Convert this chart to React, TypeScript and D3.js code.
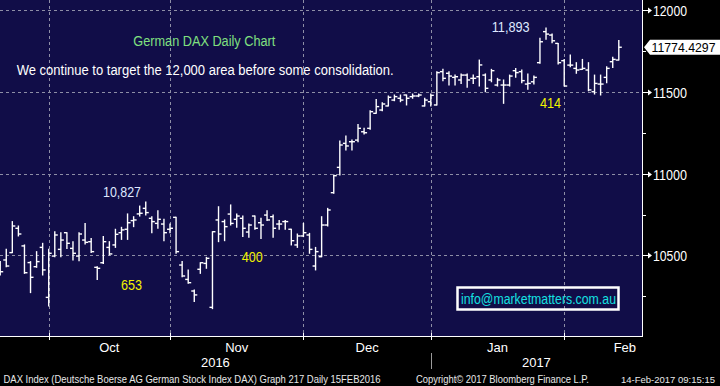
import React from 'react';
import * as d3 from 'd3';

// ---- Data ----
const START_DATE = '2016-09-21';
const END_DATE = '2017-02-14';
const HOLIDAYS = ['2016-10-03', '2016-12-26'];

const opens = [
  10440, 10472, 10517, 10666, 10558, 10456, 10431, 10549, 10243, 10496,
  10537, 10639, 10543, 10496, 10594, 10584, 10427, 10455, 10549, 10564,
  10639, 10660, 10713, 10754, 10788, 10727, 10696, 10692, 10660, 10733,
  10441, 10353, 10282, 10415, 10451, 10182, 10717, 10707, 10753, 10721,
  10727, 10643, 10741, 10700, 10747, 10737, 10692, 10707, 10660, 10564,
  10619, 10625, 10435, 10492, 10686, 10884, 11039, 11186, 11196, 11206,
  11257, 11278, 11370, 11390, 11415, 11451, 11462, 11482, 11472, 11476,
  11415, 11441, 11421, 11625, 11615, 11590, 11574, 11604, 11584, 11594,
  11604, 11574, 11543, 11543, 11543, 11631, 11625, 11549, 11563, 11680,
  11870, 11849, 11798, 11692, 11665, 11645, 11639, 11635, 11502, 11549,
  11590, 11686, 11696,
];
const highs = [
  10462, 10537, 10707, 10680, 10564, 10462, 10523, 10574, 10537, 10645,
  10639, 10639, 10584, 10639, 10696, 10604, 10431, 10615, 10584, 10660,
  10672, 10754, 10737, 10802, 10827, 10737, 10774, 10721, 10692, 10733,
  10462, 10411, 10288, 10455, 10488, 10645, 10798, 10717, 10809, 10753,
  10741, 10692, 10741, 10727, 10774, 10747, 10713, 10713, 10660, 10631,
  10696, 10635, 10549, 10737, 10788, 10992, 11200, 11231, 11206, 11302,
  11278, 11386, 11455, 11435, 11476, 11482, 11482, 11482, 11488, 11488,
  11462, 11488, 11625, 11639, 11625, 11604, 11611, 11611, 11604, 11696,
  11611, 11639, 11584, 11574, 11604, 11645, 11635, 11611, 11598, 11829,
  11893, 11855, 11798, 11700, 11727, 11680, 11700, 11680, 11604, 11604,
  11655, 11713, 11815,
];
const lows = [
  10380, 10431, 10517, 10619, 10390, 10272, 10427, 10380, 10190, 10492,
  10492, 10543, 10472, 10468, 10570, 10517, 10353, 10451, 10503, 10549,
  10598, 10598, 10676, 10741, 10747, 10639, 10666, 10590, 10639, 10513,
  10370, 10329, 10217, 10390, 10421, 10174, 10584, 10590, 10686, 10672,
  10615, 10611, 10660, 10604, 10713, 10611, 10660, 10660, 10564, 10549,
  10615, 10513, 10411, 10492, 10680, 10880, 10992, 11145, 11145, 11196,
  11243, 11272, 11370, 11386, 11415, 11447, 11441, 11421, 11462, 11472,
  11415, 11415, 11421, 11570, 11543, 11543, 11553, 11529, 11553, 11537,
  11502, 11563, 11537, 11431, 11537, 11590, 11557, 11517, 11549, 11676,
  11823, 11802, 11672, 11537, 11655, 11615, 11639, 11508, 11488, 11482,
  11557, 11651, 11696,
];
const closes = [
  10400, 10435, 10680, 10631, 10394, 10366, 10462, 10411, 10513, 10625,
  10594, 10574, 10513, 10631, 10580, 10523, 10421, 10584, 10509, 10629,
  10656, 10700, 10717, 10758, 10762, 10707, 10721, 10639, 10666, 10523,
  10374, 10333, 10258, 10455, 10482, 10645, 10631, 10676, 10696, 10741,
  10666, 10686, 10666, 10686, 10717, 10666, 10692, 10707, 10590, 10619,
  10639, 10537, 10523, 10686, 10778, 10988, 11176, 11170, 11196, 11278,
  11251, 11380, 11411, 11427, 11468, 11472, 11451, 11462, 11476, 11482,
  11451, 11480, 11619, 11584, 11598, 11594, 11604, 11574, 11584, 11666,
  11523, 11631, 11574, 11543, 11598, 11619, 11570, 11553, 11590, 11808,
  11855, 11814, 11680, 11537, 11665, 11635, 11645, 11513, 11553, 11549,
  11645, 11700, 11774.4297,
];

const yMajorTicks = [10500, 11000, 11500, 12000];
const yMinorTicks = [10250, 10750, 11250, 11750];
const lastValue = 11774.4297;

const titleText = 'German DAX Daily Chart';
const commentText = 'We continue to target the 12,000 area before some consolidation.';
const highLabels = [
  { text: '10,827', x: 103, y: 192, w: 38 },
  { text: '11,893', x: 491.7, y: 27, w: 38 },
];
const moveLabels = [
  { text: '653', x: 121, y: 285, w: 21 },
  { text: '400', x: 241.7, y: 257, w: 21 },
  { text: '414', x: 540, y: 103, w: 21 },
];
const emailText = 'info@marketmatters.com.au';
const footerLeft = 'DAX Index (Deutsche Boerse AG German Stock Index DAX) Graph 217  Daily 15FEB2016';
const footerMid = 'Copyright\u00A9 2017 Bloomberg Finance L.P.';
const footerRight = '14-Feb-2017 09:15:15';

// ---- Layout ----
const W = 720;
const H = 386;
const PLOT_R = 642;
const PLOT_B = 336;
const BG = '#110d48';
const GRID = '#8e8ea6';
const FONT = "'Liberation Sans', Arial, sans-serif";

const fmtDay = d3.utcFormat('%Y-%m-%d');
const parse = d3.utcParse('%Y-%m-%d');

function tradingDays(): Date[] {
  const s = parse(START_DATE) as Date;
  const e = d3.utcDay.offset(parse(END_DATE) as Date, 1);
  return d3.utcDay
    .range(s, e)
    .filter((d) => d.getUTCDay() !== 0 && d.getUTCDay() !== 6 && !HOLIDAYS.includes(fmtDay(d)));
}

export default function App() {
  const dates = tradingDays();
  const n = dates.length;
  const x = d3.scaleLinear().domain([0, n - 1]).range([0.2, 618.8]);
  const y = d3.scaleLinear().domain([10500, 12000]).range([255.4, 10.4]);

  const monthStarts: { i: number; label: string; date: Date }[] = [];
  for (let i = 1; i < n; i++) {
    if (dates[i].getUTCMonth() !== dates[i - 1].getUTCMonth()) {
      monthStarts.push({ i, label: d3.utcFormat('%b')(dates[i]), date: dates[i] });
    }
  }
  const last = monthStarts[monthStarts.length - 1];
  const nextMonth = d3.utcMonth.offset(last.date, 1);
  const daysInLast = d3.utcDay
    .range(d3.utcMonth.floor(last.date), nextMonth)
    .filter((d) => d.getUTCDay() !== 0 && d.getUTCDay() !== 6).length;
  const bounds = monthStarts.map((m) => m.i).concat([last.i + daysInLast]);

  const yearBreak = monthStarts.find((m) => m.date.getUTCMonth() === 0)!;
  const yb = x(yearBreak.i);

  const tick = 3;

  return (
    <div style={{ position: 'absolute', left: 0, top: 0 }}>
      <svg width={W} height={H} style={{ display: 'block', background: '#000' }}>
        <rect x={0} y={0} width={PLOT_R} height={PLOT_B} fill={BG} />
        <defs>
          <clipPath id="plotclip">
            <rect x={0} y={0} width={PLOT_R} height={PLOT_B} />
          </clipPath>
        </defs>

        <g stroke={GRID} strokeWidth={1} strokeDasharray="3,3" shapeRendering="crispEdges">
          {yMajorTicks.map((t) => (
            <line key={t} x1={0} x2={PLOT_R} y1={Math.round(y(t)) + 0.5} y2={Math.round(y(t)) + 0.5} />
          ))}
          {monthStarts.map((m) => (
            <line key={m.i} x1={Math.round(x(m.i)) + 0.5} x2={Math.round(x(m.i)) + 0.5} y1={0} y2={PLOT_B} />
          ))}
        </g>

        <g clipPath="url(#plotclip)" stroke="#ffffff" strokeWidth={1.4}>
          {dates.map((d, i) => {
            const cx = x(i);
            return (
              <g key={i}>
                <line x1={cx} x2={cx} y1={y(highs[i]) - 0.5} y2={y(lows[i]) + 0.5} />
                <line x1={cx - tick} x2={cx} y1={y(opens[i])} y2={y(opens[i])} />
                <line x1={cx} x2={cx + tick} y1={y(closes[i])} y2={y(closes[i])} />
              </g>
            );
          })}
        </g>

        <text x={133.3} y={41} fill="#80e080" fontFamily={FONT} fontSize={14} dominantBaseline="central"
          textLength={142} lengthAdjust="spacingAndGlyphs">{titleText}</text>
        <text x={16.7} y={70} fill="#ffffff" fontFamily={FONT} fontSize={14} dominantBaseline="central"
          textLength={377} lengthAdjust="spacingAndGlyphs">{commentText}</text>
        {highLabels.map((l) => (
          <text key={l.text} x={l.x} y={l.y} fill="#dfe8ff" fontFamily={FONT} fontSize={14}
            dominantBaseline="central" textLength={l.w} lengthAdjust="spacingAndGlyphs">{l.text}</text>
        ))}
        {moveLabels.map((l) => (
          <text key={l.text} x={l.x} y={l.y} fill="#f2f200" fontFamily={FONT} fontSize={14}
            dominantBaseline="central" textLength={l.w} lengthAdjust="spacingAndGlyphs">{l.text}</text>
        ))}
        <rect x={457.5} y={287.5} width={161} height={22} fill="none" stroke="#ffffff" strokeWidth={2.5} />
        <text x={461} y={298.5} fill="#14e0e0" fontFamily={FONT} fontSize={14} dominantBaseline="central"
          textLength={155} lengthAdjust="spacingAndGlyphs">{emailText}</text>

        <line x1={PLOT_R + 0.5} x2={PLOT_R + 0.5} y1={0} y2={PLOT_B} stroke="#ffffff" strokeWidth={1} />
        {yMinorTicks.map((t) => (
          <line key={t} x1={PLOT_R} x2={PLOT_R + 4} y1={Math.round(y(t)) + 0.5} y2={Math.round(y(t)) + 0.5}
            stroke="#ffffff" strokeWidth={1} />
        ))}
        {yMajorTicks.map((t) => {
          const ty = Math.round(y(t)) + 0.5;
          return (
            <g key={t}>
              <line x1={PLOT_R} x2={PLOT_R + 7} y1={ty} y2={ty} stroke="#ffffff" strokeWidth={1} />
              <path d={`M${PLOT_R + 6},${ty - 3}L${PLOT_R + 10},${ty}L${PLOT_R + 6},${ty + 3}Z`} fill="#ffffff" />
              <text x={653} y={ty} fill="#ffffff" fontFamily={FONT} fontSize={14} dominantBaseline="central"
                textLength={34} lengthAdjust="spacingAndGlyphs">{t}</text>
            </g>
          );
        })}
        {(() => {
          const ly = y(lastValue);
          return (
            <g>
              <path d={`M${PLOT_R + 2},${ly}L${PLOT_R + 8},${ly - 7.5}L${W},${ly - 7.5}L${W},${ly + 7.5}L${PLOT_R + 8},${ly + 7.5}Z`}
                fill="#ffffff" />
              <text x={651.5} y={ly + 0.5} fill="#000000" fontFamily={FONT} fontSize={12.2} dominantBaseline="central"
                textLength={64} lengthAdjust="spacingAndGlyphs">{lastValue.toFixed(4)}</text>
            </g>
          );
        })()}

        <line x1={0} x2={PLOT_R + 1} y1={PLOT_B + 0.5} y2={PLOT_B + 0.5} stroke="#ffffff" strokeWidth={1} />
        {monthStarts.map((m) => (
          <line key={m.i} x1={Math.round(x(m.i)) + 0.5} x2={Math.round(x(m.i)) + 0.5} y1={PLOT_B - 3} y2={PLOT_B + 4}
            stroke="#ffffff" strokeWidth={1} />
        ))}
        {monthStarts.map((m, k) => (
          <text key={m.i} x={(x(bounds[k]) + x(bounds[k + 1])) / 2} y={347} fill="#ffffff" fontFamily={FONT}
            fontSize={13} textAnchor="middle" dominantBaseline="central">{m.label}</text>
        ))}
        <text x={yb / 2} y={362} fill="#ffffff" fontFamily={FONT} fontSize={13} textAnchor="middle"
          dominantBaseline="central">{d3.utcFormat('%Y')(dates[0])}</text>
        <text x={(yb + PLOT_R) / 2} y={362} fill="#ffffff" fontFamily={FONT} fontSize={13} textAnchor="middle"
          dominantBaseline="central">{d3.utcFormat('%Y')(yearBreak.date)}</text>
        <line x1={Math.round(yb) + 0.5} x2={Math.round(yb) + 0.5} y1={353} y2={369} stroke="#9a9a9a" strokeWidth={1} />

        <text x={3.5} y={379} fill="#e8e8e8" fontFamily={FONT} fontSize={10.5} dominantBaseline="central"
          textLength={377} lengthAdjust="spacingAndGlyphs">{footerLeft}</text>
        <text x={416} y={379} fill="#e8e8e8" fontFamily={FONT} fontSize={10.5} dominantBaseline="central"
          textLength={173} lengthAdjust="spacingAndGlyphs">{footerMid}</text>
        <text x={621} y={379} fill="#e8e8e8" fontFamily={FONT} fontSize={9.4} dominantBaseline="central"
          textLength={94} lengthAdjust="spacingAndGlyphs">{footerRight}</text>
      </svg>
    </div>
  );
}
